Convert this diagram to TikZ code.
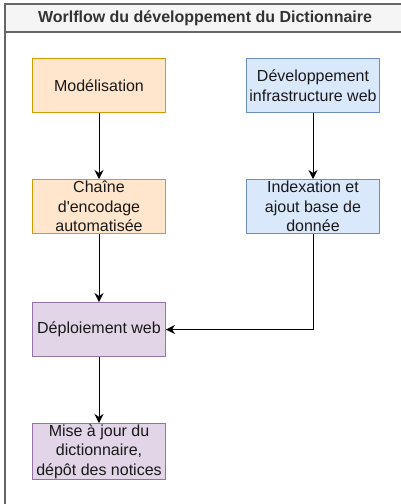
\documentclass[tikz,border=0pt]{standalone}
\usepackage{fontspec}
\setmainfont{Liberation Sans}
\usetikzlibrary{positioning}
\usetikzlibrary{arrows.meta}
\definecolor{orangefill}{HTML}{FFE6CC}
\definecolor{orangeline}{HTML}{D79B00}
\definecolor{bluefill}{HTML}{DAE8FC}
\definecolor{blueline}{HTML}{6C8EBF}
\definecolor{purplefill}{HTML}{E1D5E7}
\definecolor{purpleline}{HTML}{9673A6}
\definecolor{framegray}{HTML}{666666}
\definecolor{titlefill}{HTML}{F5F5F5}
\tikzstyle{step box}=[draw, line width=1pt, minimum width=133pt, minimum height=54pt, inner sep=1pt, align=center, text=black!90, font=\fontsize{16}{19.5}\selectfont]
\tikzstyle{orange box}=[step box, fill=orangefill, draw=orangeline]
\tikzstyle{blue box}=[step box, fill=bluefill, draw=blueline]
\tikzstyle{purple box}=[step box, fill=purplefill, draw=purpleline]
\tikzstyle{flow}=[-{Stealth[length=9pt,width=9pt]}, line width=1pt, black]

\begin{document}
\begin{tikzpicture}[x=1pt, y=1pt, node distance=66pt and 80pt]
\useasboundingbox (0,0) rectangle (401,-504);
% frame and title
\fill[titlefill] (5,-4) rectangle (404,-32);
\draw[framegray, line width=1.2pt] (5,-510) -- (5,-4) -- (404,-4) -- (404,-510);
\draw[framegray, line width=1.2pt] (5,-32) -- (404,-32);
\node (title) at (205,-18) [text=black!80, font=\fontsize{16}{19}\selectfont\bfseries] {Worlflow du développement du Dictionnaire};

% steps
\node (model) at (99,-85.5) [orange box] {Modélisation};
\node (chaine) [below=of model, orange box] {Chaîne\\d\textquotesingle encodage\\automatisée};
\node (devweb) [right=of model, blue box] {Développement\\infrastructure web};
\node (index) [below=of devweb, blue box] {Indexation et\\ajout base de\\donnée};
\node (deploi) [below=68pt of chaine, purple box] {Déploiement web};
\node (maj) [below=of deploi, purple box] {Mise à jour du\\dictionnaire,\\dépôt des notices};

\draw [flow] (model) -- (chaine);
\draw [flow] (devweb) -- (index);
\draw [flow] (chaine) -- (deploi);
\draw [flow] (index.south) |- (deploi.east);
\draw [flow] (deploi) -- (maj);
\end{tikzpicture}
\end{document}
